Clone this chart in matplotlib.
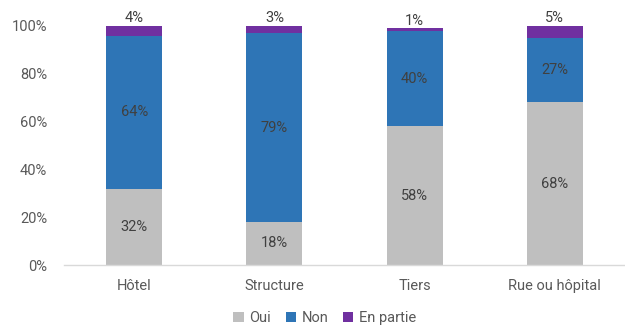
import matplotlib.pyplot as plt
from matplotlib.ticker import PercentFormatter
import numpy as np

plt.rcParams['font.family'] = ['Roboto', 'DejaVu Sans']

categories = ['Hôtel', 'Structure', 'Tiers', 'Rue ou hôpital']
oui = [32, 18, 58, 68]
non = [64, 79, 40, 27]
en_partie = [4, 3, 1, 5]

colors = {'Oui': '#BFBFBF', 'Non': '#2E75B6', 'En partie': '#7030A0'}

fig = plt.figure(figsize=(6.25, 3.27), dpi=100)
ax = fig.add_axes([0.1024, 0.1896, 0.8976, 0.7309])

x = np.arange(len(categories))
w = 0.40
oui_a = np.array(oui)
non_a = np.array(non)
part_a = np.array(en_partie)

ax.bar(x, oui_a, w, color=colors['Oui'], label='Oui')
ax.bar(x, non_a, w, bottom=oui_a, color=colors['Non'], label='Non')
ax.bar(x, part_a, w, bottom=oui_a + non_a, color=colors['En partie'], label='En partie')

# labels au centre des segments, "En partie" au-dessus de la barre
for i in range(len(categories)):
    ax.text(x[i], oui_a[i] / 2, f'{oui[i]}%', ha='center', va='center',
            fontsize=10.5, color='#404040')
    ax.text(x[i], oui_a[i] + non_a[i] / 2, f'{non[i]}%', ha='center', va='center',
            fontsize=10.5, color='#404040')
    ax.text(x[i], oui_a[i] + non_a[i] + part_a[i] + 0.3, f'{en_partie[i]}%',
            ha='center', va='bottom', fontsize=10.5, color='#404040')

ax.set_xlim(-0.5, 3.5)
ax.set_ylim(0, 100)
ax.set_yticks(range(0, 101, 20))
ax.yaxis.set_major_formatter(PercentFormatter(decimals=0))
ax.set_xticks(x)
ax.set_xticklabels(categories)
ax.tick_params(axis='both', length=0, labelsize=10.5, labelcolor='#595959')
ax.tick_params(axis='y', pad=12)
ax.tick_params(axis='x', pad=10)

for s in ['top', 'right', 'left']:
    ax.spines[s].set_visible(False)
ax.spines['bottom'].set_color('#D9D9D9')
ax.spines['bottom'].set_linewidth(1)

fig.legend(loc='lower center', bbox_to_anchor=(0.52, -0.035), ncol=3, frameon=False,
           fontsize=10.5, handlelength=0.7, handleheight=0.7, handletextpad=0.4,
           columnspacing=1.0, labelcolor='#595959')

fig.savefig('out.png', dpi=100)
